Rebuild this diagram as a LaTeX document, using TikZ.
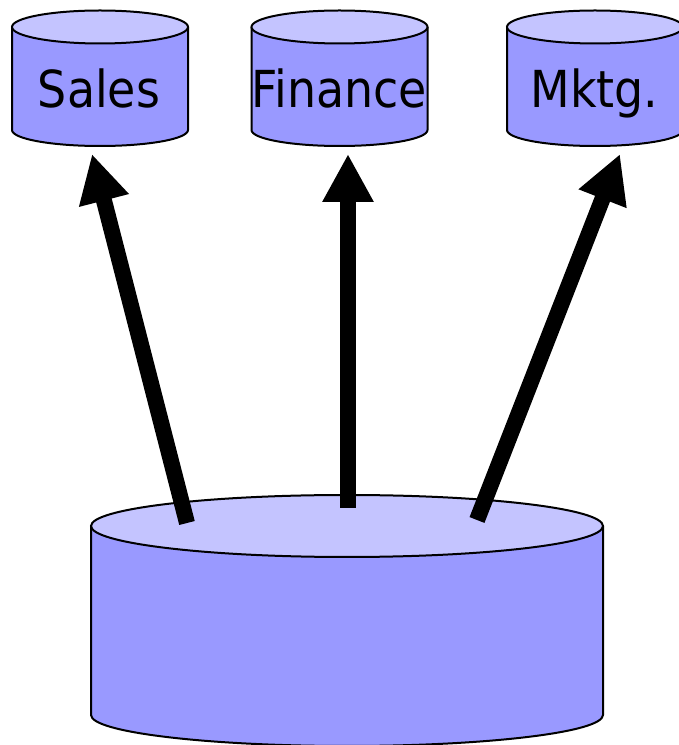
\documentclass[tikz,border=0pt]{standalone}
\usepackage{fontspec}
\usepackage{tikz}
\usepackage{xcolor}
\usetikzlibrary{arrows.meta,positioning}
\newfontfamily\dbfont{DejaVu Sans Condensed}
\definecolor{DbBody}{HTML}{9999FF}
\definecolor{DbTop}{HTML}{C4C4FF}

\begin{document}
\begin{tikzpicture}[
  x=1pt,y=1pt,
  dbbody/.style={fill=DbBody},
  dbedge/.style={draw=black,line width=2pt,line join=round},
  dbtop/.style={fill=DbTop,draw=black,line width=2pt},
  dblabel/.style={anchor=base,inner sep=0pt,font=\dbfont\fontsize{51}{61}\selectfont},
  feed/.style={line width=16pt,-{Triangle[length=48pt,width=48pt]}}
]
\useasboundingbox (0,0) rectangle (679,745);
% small marts
\foreach \cx in {100,339.5,595} {
  \fill[dbbody] (\cx-88,718) -- (\cx-88,615) arc[start angle=180,end angle=360,x radius=88pt,y radius=16pt] -- (\cx+88,718) -- cycle;
  \draw[dbedge] (\cx-88,718) -- (\cx-88,615) arc[start angle=180,end angle=360,x radius=88pt,y radius=16pt] -- (\cx+88,718);
  \draw[dbtop] (\cx,718) ellipse[x radius=88pt,y radius=16.5pt];
}
\node[dblabel] (sales) at (99,637) {Sales};
\node[dblabel] (finance) at (339.5,637) {Finance};
\node[dblabel] (mktg) at (594.5,637) {Mktg.};
% big warehouse
\fill[dbbody] (91,219) -- (91,30) arc[start angle=180,end angle=360,x radius=256pt,y radius=31pt] -- (603,219) -- cycle;
\draw[dbedge] (91,219) -- (91,30) arc[start angle=180,end angle=360,x radius=256pt,y radius=31pt] -- (603,219);
\draw[dbtop] (347,219) ellipse[x radius=256pt,y radius=31pt];
% arrow ends
\coordinate (srcL) at (187,222);
\coordinate (srcM) at (348,237);
\coordinate (srcR) at (477,225);
\coordinate (dstL) at (92,591);
\coordinate (dstM) at (348,591);
\coordinate (dstR) at (620,591);
\draw[feed] (srcL) -- (dstL);
\draw[feed] (srcM) -- (dstM);
\draw[feed] (srcR) -- (dstR);
\end{tikzpicture}
\end{document}
